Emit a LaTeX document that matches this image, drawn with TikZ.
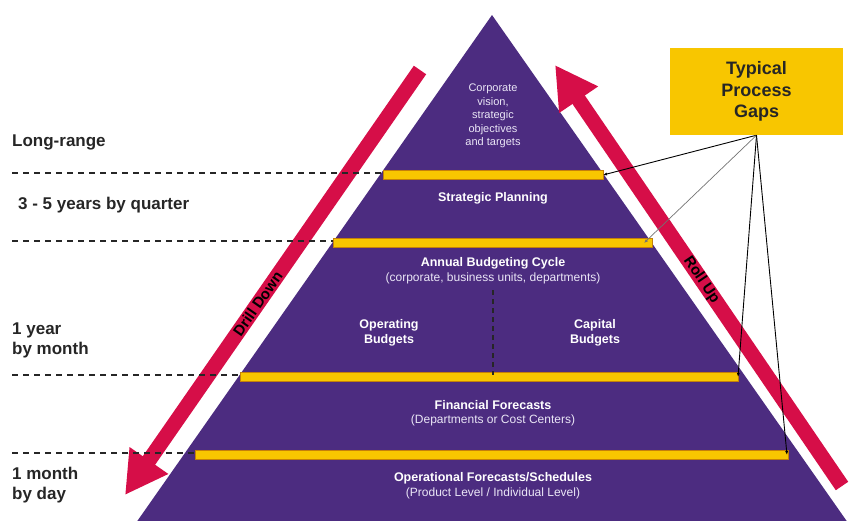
\documentclass[tikz,border=0pt]{standalone}
\usepackage{fontspec}
\setmainfont{Liberation Sans}
\usetikzlibrary{arrows.meta}

\definecolor{pyrpurple}{RGB}{76,44,128}
\definecolor{arrowred}{RGB}{214,14,72}
\definecolor{gapyellow}{RGB}{248,198,0}
\definecolor{gapedge}{RGB}{196,128,10}
\definecolor{labelgray}{RGB}{38,38,38}
\definecolor{softwhite}{RGB}{234,230,246}

\begin{document}
\begin{tikzpicture}[x=1pt,y=-1pt,
    timelabel/.style={anchor=west,align=left,text=labelgray,inner sep=0pt,
        font=\fontsize{17}{20}\selectfont\bfseries},
    layertitle/.style={text=white,align=center,inner sep=0pt,
        font=\fontsize{12.5}{15}\selectfont\bfseries},
    layernote/.style={text=softwhite,align=center,inner sep=0pt,
        font=\fontsize{12}{14}\selectfont},
    gapbar/.style={fill=gapyellow,draw=gapedge,line width=0.8pt},
    guide/.style={labelgray,line width=1.2pt,dash pattern=on 6pt off 5pt},
    bigarrow/.style={draw=arrowred,line width=15pt,-{Triangle[length=42pt,width=44pt]}},
    arrowtext/.style={text=black,inner sep=0pt,font=\fontsize{15}{17}\selectfont\bfseries},
    gapbox/.style={fill=gapyellow,minimum width=173pt,minimum height=87pt,align=center,
        text=black!85,font=\fontsize{18}{21.5}\selectfont\bfseries},
    gapline/.style={black,line width=0.9pt,-{Latex[length=4pt,width=3pt]}}]

    \useasboundingbox (0,0) rectangle (856,520);
    \clip (0,0) rectangle (856,520);

    % Draw the pyramid
    \fill[pyrpurple] (492,15) -- (131,530) -- (853,530) -- cycle;

    % Draw the drill down and roll up arrows
    \coordinate (drill-start) at (420,70);
    \coordinate (drill-end) at (125,495);
    \coordinate (roll-start) at (842,486);
    \coordinate (roll-end) at (555,65);
    \draw[bigarrow] (drill-start) -- (drill-end)
        node[arrowtext,pos=0.55,rotate=55] (drill) {Drill Down};
    \draw[bigarrow] (roll-start) -- (roll-end)
        node[arrowtext,pos=0.49,rotate=-56] (roll) {Roll Up};

    % Draw the yellow bars with their dashed guides
    \foreach \y/\xl/\xr/\xg/\name in {175/383/603/603/strat, 243/333/652/644/annual,
                                     377/240/738/738/fin, 455/195/788/787/oper} {
        \coordinate (\name-m) at (12,\y-2);
        \coordinate (\name-l) at (\xl,\y-2);
        \coordinate (\name-r) at (\xg,\y);
        \draw[guide] (\name-m) -- (\name-l);
        \draw[gapbar] (\xl,\y-4.5) rectangle (\xr,\y+4.5);
    }

    % Split between operating and capital budgets
    \coordinate (split) at (493,290);
    \draw[black!85,line width=1.2pt,dash pattern=on 5pt off 4pt] (split) -- (split |- fin-l);

    % Time horizons on the left
    \node[timelabel] (longrange) at (12,142) {Long-range};
    \node[timelabel] (quarter) at (18,205) {3 - 5 years by quarter};
    \node[timelabel] (year) at (12,340) {1 year\\by month};
    \node[timelabel] (month) at (12,485) {1 month\\by day};

    % Layers of the pyramid
    \node[layernote,font=\fontsize{11}{13.5}\selectfont] (vision) at (493,116)
        {Corporate\\vision,\\strategic\\objectives\\and targets};
    \node[layertitle] (planning) at (493,198) {Strategic Planning};
    \node[layertitle] (annual) at (493,263) {Annual Budgeting Cycle};
    \node[layernote] (annualnote) at (493,278) {(corporate, business units, departments)};
    \node[layertitle] (operating) at (389,333) {Operating\\Budgets};
    \node[layertitle] (capital) at (595,333) {Capital\\Budgets};
    \node[layertitle] (financial) at (493,405) {Financial Forecasts};
    \node[layernote] (financialnote) at (493,420) {(Departments or Cost Centers)};
    \node[layertitle] (operational) at (493,478) {Operational Forecasts/Schedules};
    \node[layernote] (operationalnote) at (493,493) {(Product Level / Individual Level)};

    % Typical process gaps
    \node[gapbox] (gaps) at (756.5,91.5) {Typical\\Process\\Gaps};
    \draw[gapline] (gaps.south) -- (strat-r);
    \draw[gapline,black!55,line width=0.7pt] (gaps.south) -- (annual-r);
    \draw[gapline] (gaps.south) -- (fin-r);
    \draw[gapline] (gaps.south) -- (oper-r);
\end{tikzpicture}
\end{document}
